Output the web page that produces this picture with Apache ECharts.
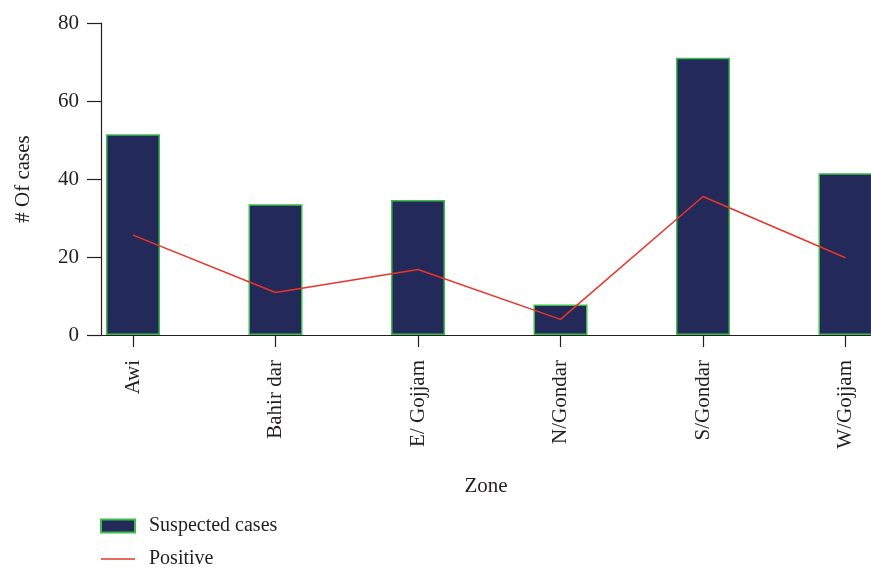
<!DOCTYPE html>
<html>
<head>
<meta charset="utf-8">
<script src="https://cdn.jsdelivr.net/npm/echarts@6/dist/echarts.min.js"></script>
<style>html,body{margin:0;padding:0;background:#fff}#c{width:871px;height:567px}</style>
</head>
<body>
<div id="c"></div>
<script>
var categories = ['Awi', 'Bahir dar', 'E/ Gojjam', 'N/Gondar', 'S/Gondar', 'W/Gojjam'];
var suspected = [51.5, 33.5, 34.6, 7.8, 71.1, 41.5];
var positive = [25.6, 10.9, 16.8, 4.0, 35.5, 19.8];
var yTicks = [0, 20, 40, 60, 80];

var FONT = 'Liberation Serif';
var FS = 21;
var chart = echarts.init(document.getElementById('c'));
var idx = categories.map(function (c, i) { return i; });
chart.setOption({
  animation: false,
  textStyle: { fontFamily: FONT, color: '#231f20' },
  grid: { left: 101, right: 0, top: 23, bottom: 232, containLabel: false },
  legend: {
    orient: 'vertical', left: 100, top: 516, height: 90, padding: 0,
    itemWidth: 34, itemHeight: 13, itemGap: 13,
    textStyle: { fontFamily: FONT, fontSize: 20, color: '#231f20', padding: [0, 0, 0, 9] },
    data: [
      { name: 'Suspected cases', icon: 'rect' },
      { name: 'Positive', icon: 'path://M0,0 L34,0 L34,1.5 L0,1.5 Z', itemStyle: { color: '#e8342a' } }
    ]
  },
  xAxis: {
    type: 'value', min: -0.2246, max: 5.179,
    name: 'Zone', nameLocation: 'middle', nameGap: 141,
    nameTextStyle: { fontFamily: FONT, fontSize: FS, color: '#231f20' },
    splitLine: { show: false },
    axisLine: { show: true, onZero: false, lineStyle: { color: '#231f20', width: 1.2 } },
    axisTick: { show: true, length: 12, customValues: idx, lineStyle: { color: '#231f20', width: 1.2 } },
    axisLabel: {
      customValues: idx, rotate: 90, margin: 25, fontFamily: FONT, fontSize: FS, color: '#231f20',
      formatter: function (v) { return categories[Math.round(v)]; }
    }
  },
  yAxis: {
    type: 'value', min: 0, max: 80, interval: 20,
    name: '# Of cases', nameLocation: 'middle', nameGap: 67, nameRotate: 90,
    nameTextStyle: { fontFamily: FONT, fontSize: FS, color: '#231f20' },
    splitLine: { show: false },
    axisLine: { show: true, onZero: false, lineStyle: { color: '#231f20', width: 1.2 } },
    axisTick: { show: true, length: 14, lineStyle: { color: '#231f20', width: 1.2 } },
    axisLabel: {
      margin: 22, fontFamily: FONT, fontSize: FS, color: '#231f20',
      formatter: function (v) { return yTicks.indexOf(v) >= 0 ? String(v) : ''; }
    }
  },
  series: [
    {
      name: 'Suspected cases', type: 'bar', barWidth: 54,
      itemStyle: { color: '#232a5a', borderColor: '#3dbd4a', borderWidth: 1.5 },
      data: suspected.map(function (v, i) { return [i, v]; })
    },
    {
      name: 'Positive', type: 'line', symbol: 'none',
      lineStyle: { color: '#e8342a', width: 1.5 },
      itemStyle: { color: '#e8342a' },
      data: positive.map(function (v, i) { return [i, v]; })
    }
  ]
});
</script>
</body>
</html>
